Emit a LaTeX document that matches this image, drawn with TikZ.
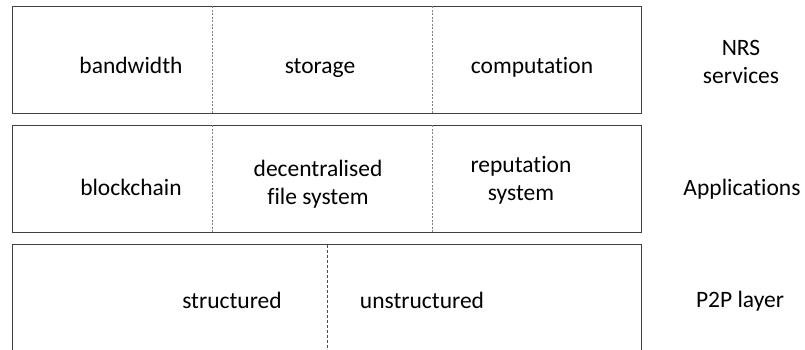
\documentclass[tikz,border=0pt]{standalone}
\usepackage{fontspec}
\setmainfont{Carlito}[Ligatures={NoCommon}]
\begin{document}
\begin{tikzpicture}[x=1pt,y=-1pt,
  layer/.style={draw=black!75,line width=0.9pt},
  sep/.style={draw=black!50,line width=0.8pt,dash pattern=on 2pt off 1.5pt},
  sepdark/.style={draw=black!70,line width=0.8pt,dash pattern=on 3pt off 2pt},
  lbl/.style={font=\fontsize{23.5}{27.5}\selectfont,align=center,inner sep=0pt,text=black,anchor=base}]
\useasboundingbox (0,0) rectangle (805,349);
% boxes
\draw[layer] (12,6) rectangle (641,113);
\draw[layer] (12,125) rectangle (641,232);
\draw[layer] (12,244.5) -- (12,352) (12,244.5) -- (641,244.5) -- (641,352);
% separators
\coordinate (s1t) at (212.5,6);   \coordinate (s1b) at (212.5,113);
\coordinate (s2t) at (432.5,6);   \coordinate (s2b) at (432.5,113);
\coordinate (s3t) at (212.5,125); \coordinate (s3b) at (212.5,232);
\coordinate (s4t) at (432.5,125); \coordinate (s4b) at (432.5,232);
\coordinate (s5t) at (327,244.5); \coordinate (s5b) at (327,352);
\draw[sep] (s1t) -- (s1b);
\draw[sep] (s2t) -- (s2b);
\draw[sep] (s3t) -- (s3b);
\draw[sep] (s4t) -- (s4b);
\draw[sepdark] (s5t) -- (s5b);
% labels
\node[lbl] (bw) at (131,73) {bandwidth};
\node[lbl] (st) at (320,73) {storage};
\node[lbl] (cp) at (532,73) {computation};
\node[lbl] (nrs) at (741,83) {NRS\\services};
\node[lbl] (bc) at (131,195) {blockchain};
\node[lbl] (dfs) at (318,204) {decentralised\\file system};
\node[lbl] (rep) at (521,200) {reputation\\system};
\node[lbl] (app) at (742,195) {Applications};
\node[lbl] (str) at (232,308) {structured};
\node[lbl] (uns) at (422,308) {unstructured};
\node[lbl] (p2p) at (740,307) {P2P layer};
\end{tikzpicture}
\end{document}
